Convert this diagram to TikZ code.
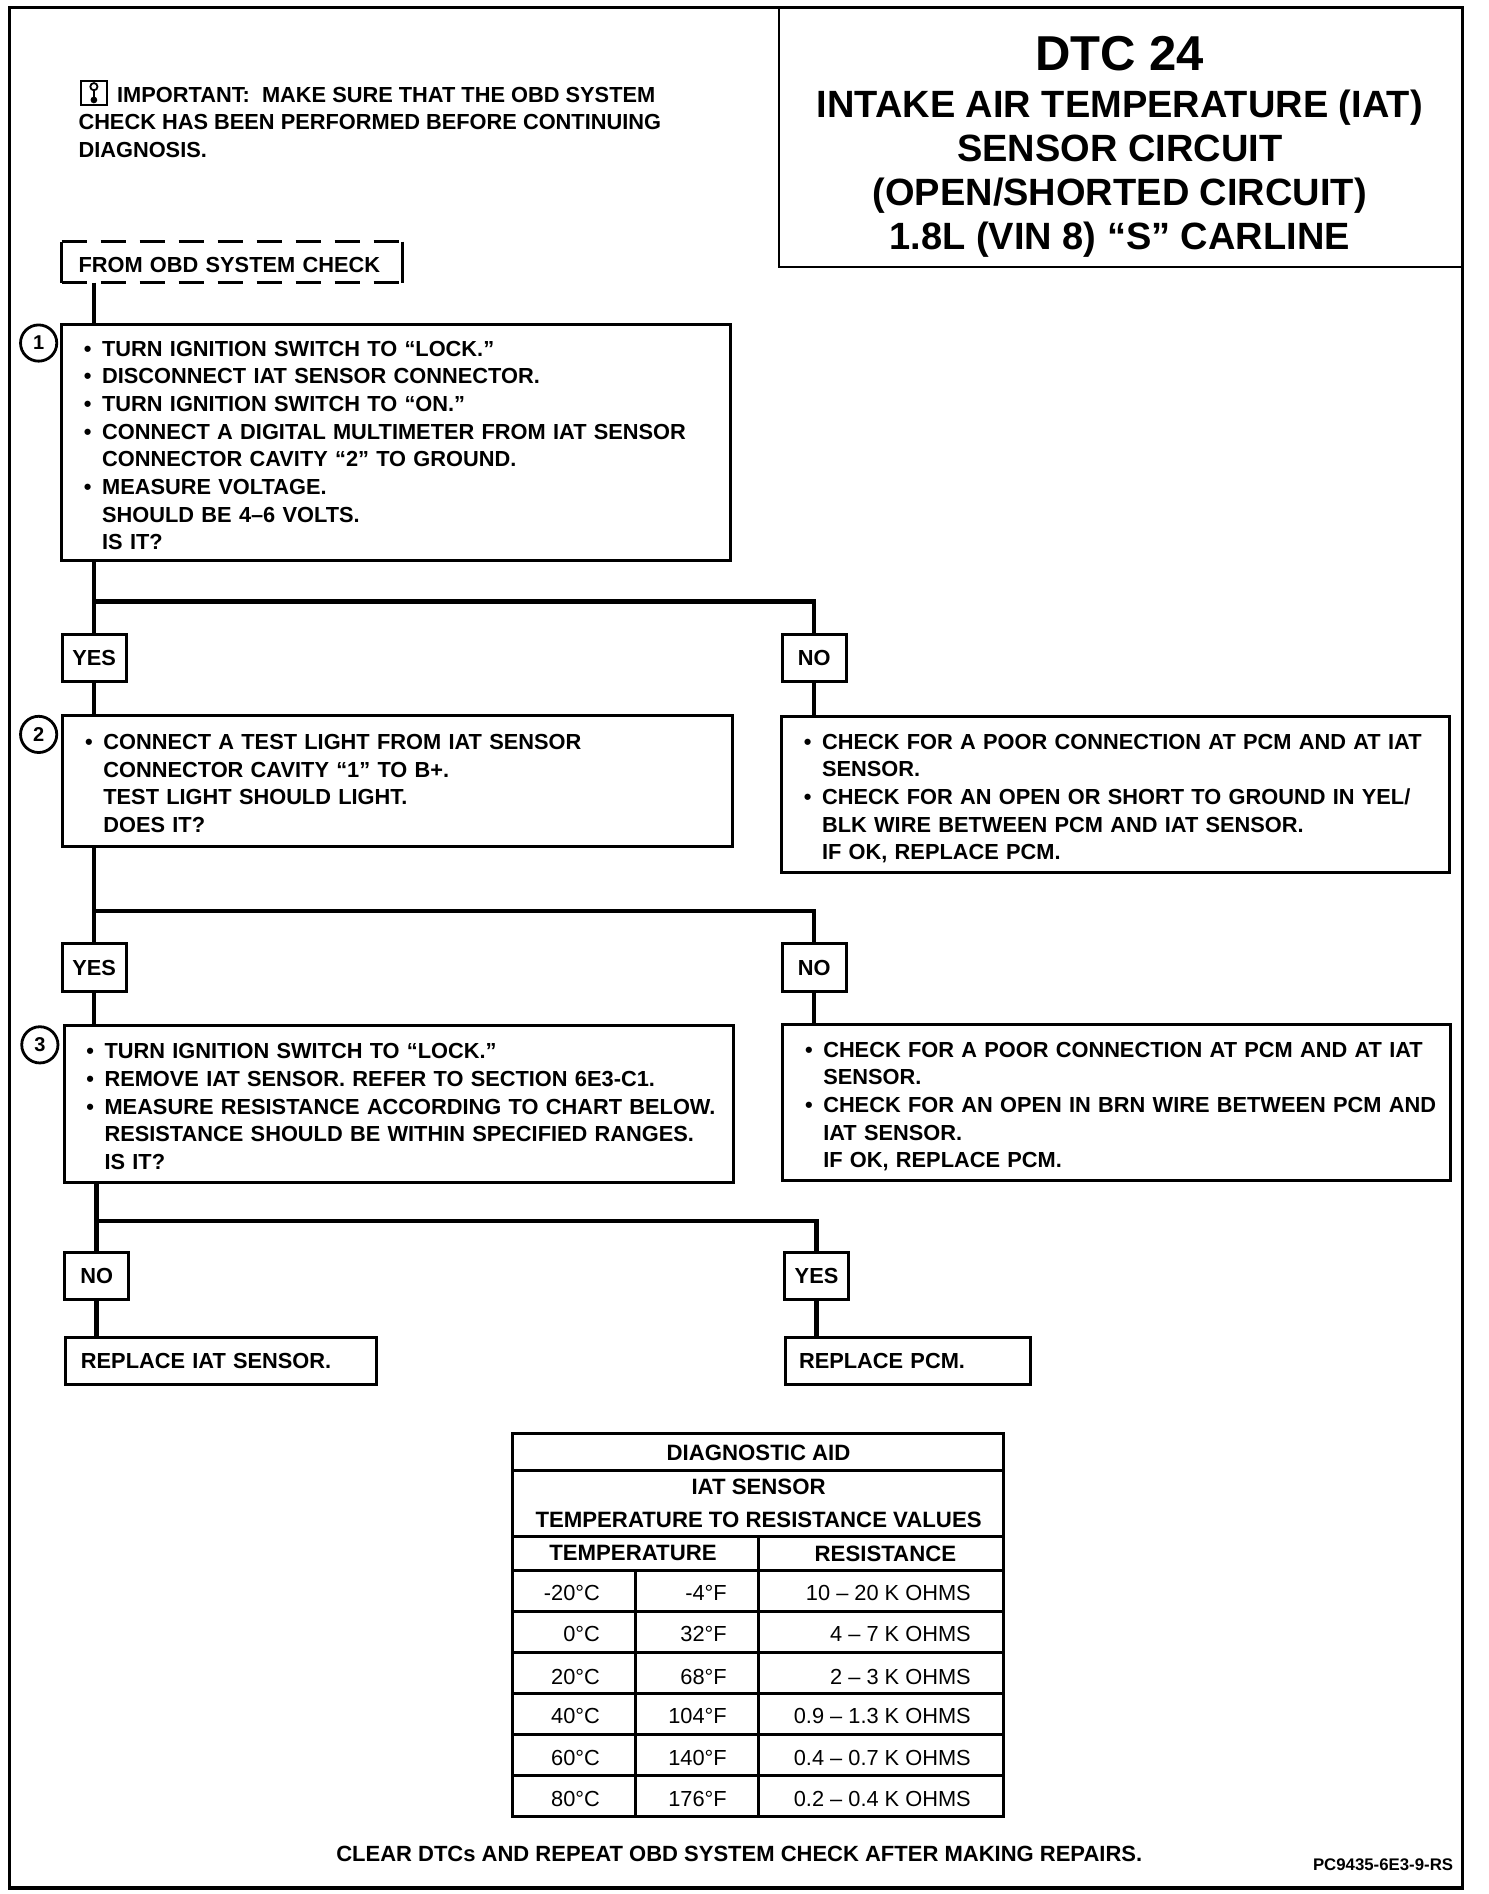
\documentclass[tikz,border=0pt]{standalone}
\usepackage{fontspec}
\setmainfont{Liberation Sans}
\usetikzlibrary{calc}
\newcommand{\bxnode}[7][]{\node[#6,anchor=north west,minimum width={(#4-#2)*0.6039pt},minimum height={(#5-#3)*0.6039pt},text width={(#4-#2-37)*0.6039pt},#1] (#7) at (#2,#3)}
\newcommand{\bl}[1]{\mbox{\makebox[9.1pt][l]{\textbullet}#1}}
\newcommand{\nb}[1]{\mbox{\hspace*{9.1pt}#1}}
\tikzset{
 x=0.6039pt,y=-0.6039pt,
 base/.style={font=\fontsize{10.9}{13.83}\selectfont\bfseries,align=left,inner sep=0pt,outer sep=0pt},
 procbox/.style={base,draw,line width=1.5pt},
 listbox/.style={procbox,execute at begin node={\rule{0pt}{10.3pt}}},
 lowlist/.style={procbox,execute at begin node={\rule{0pt}{12.1pt}}},
 plainbox/.style={base,line width=1.5pt,execute at begin node={\rule{0pt}{10.3pt}}},
 answer/.style={base,draw,line width=1.5pt,align=center,minimum width=53*0.6039pt,minimum height=39*0.6039pt,anchor=center},
 conn/.style={line width=2.2pt},
 marker/.style={circle,draw,line width=1.4pt,minimum size=30*0.6039pt,inner sep=0pt,font=\fontsize{10}{10}\selectfont\bfseries},
 rule/.style={line width=1.5pt},
 hcell/.style={font=\fontsize{11.1}{12}\selectfont\bfseries,inner sep=0pt},
 cell/.style={font=\fontsize{10.9}{12}\selectfont,inner sep=0pt,anchor=east},
 frame/.style={line width=1.6pt},
 iconline/.style={line width=0.9pt}
}
\begin{document}
\begin{tikzpicture}
\useasboundingbox (0,0) rectangle (1232,1568);
\draw[frame] (8,6) rectangle (1211,1563);
% title
\node[base,minimum width=565*0.6039pt,minimum height=215*0.6039pt,anchor=north west] (title) at (645,6) {};
\draw[line width=1.1pt] (title.north west) -- (title.south west) -- (title.south east);
\node[base,align=center,font=\fontsize{19}{22}\selectfont\bfseries] (titletext) at (927,121.5) {{\fontsize{24.5}{26}\selectfont DTC 24}\\[1.5pt]INTAKE AIR TEMPERATURE (IAT)\\SENSOR CIRCUIT\\(OPEN/SHORTED CIRCUIT)\\1.8L (VIN 8) “S” CARLINE};
% important note
\node[base,anchor=north west] (note) at (65,72) {\hspace*{19.3pt}IMPORTANT:\ \ MAKE SURE THAT THE OBD SYSTEM\\CHECK HAS BEEN PERFORMED BEFORE CONTINUING\\DIAGNOSIS.};
\node[draw,iconline,minimum width=22*0.6039pt,minimum height=20*0.6039pt,inner sep=0pt,anchor=north west] (icon) at (66,66) {};
\node[circle,draw,iconline,minimum size=3.6pt,inner sep=0pt] (iconA) at ($(icon.center)+(0,-5)$) {};
\node[circle,draw,fill,iconline,minimum size=2.4pt,inner sep=0pt] (iconB) at ($(icon.center)+(0,6)$) {};
\draw[iconline] (iconA) -- (iconB);
% boxes
\bxnode[text width=254*0.6039pt]{51}{200}{333}{234}{plainbox}{from}{FROM OBD SYSTEM CHECK};
\draw[line width=1.5pt,dash pattern=on 12.5pt off 7pt] (from.north west) -- (from.north east);
\draw[line width=1.5pt,dash pattern=on 12.5pt off 7pt] (from.south west) -- (from.south east);
\draw[line width=1.5pt] (from.north west) -- (from.south west);
\draw[line width=1.5pt] (from.north east) -- (from.south east);
\bxnode{51}{269}{605}{464}{listbox}{box1}{\bl{TURN IGNITION SWITCH TO “LOCK.”}\\\bl{DISCONNECT IAT SENSOR CONNECTOR.}\\\bl{TURN IGNITION SWITCH TO “ON.”}\\\bl{CONNECT A DIGITAL MULTIMETER FROM IAT SENSOR}\\\nb{CONNECTOR CAVITY “2” TO GROUND.}\\\bl{MEASURE VOLTAGE.}\\\nb{SHOULD BE 4–6 VOLTS.}\\\nb{IS IT?}};
\bxnode{52}{592}{606}{701}{listbox}{box2}{\bl{CONNECT A TEST LIGHT FROM IAT SENSOR}\\\nb{CONNECTOR CAVITY “1” TO B+.}\\\nb{TEST LIGHT SHOULD LIGHT.}\\\nb{DOES IT?}};
\bxnode{53}{849}{607}{979}{listbox}{box3}{\bl{TURN IGNITION SWITCH TO “LOCK.”}\\\bl{REMOVE IAT SENSOR. REFER TO SECTION 6E3-C1.}\\\bl{MEASURE RESISTANCE ACCORDING TO CHART BELOW.}\\\nb{RESISTANCE SHOULD BE WITHIN SPECIFIED RANGES.}\\\nb{IS IT?}};
\bxnode{647}{593}{1200}{722}{lowlist}{boxa}{\bl{CHECK FOR A POOR CONNECTION AT PCM AND AT IAT}\\\nb{SENSOR.}\\\bl{CHECK FOR AN OPEN OR SHORT TO GROUND IN YEL/}\\\nb{BLK WIRE BETWEEN PCM AND IAT SENSOR.}\\\nb{IF OK, REPLACE PCM.}};
\bxnode{648}{848}{1201}{977}{lowlist}{boxb}{\bl{CHECK FOR A POOR CONNECTION AT PCM AND AT IAT}\\\nb{SENSOR.}\\\bl{CHECK FOR AN OPEN IN BRN WIRE BETWEEN PCM AND}\\\nb{IAT SENSOR.}\\\nb{IF OK, REPLACE PCM.}};
\bxnode[text width=232*0.6039pt]{54}{1107}{312}{1146}{procbox}{rep1}{REPLACE IAT SENSOR.};
\bxnode[text width=180*0.6039pt]{650}{1107}{853}{1146}{procbox}{rep2}{REPLACE PCM.};
% yes/no
\node[answer] (yes1) at (78,545) {YES};
\node[answer] (no1) at (674,545) {NO};
\node[answer] (yes2) at (78,801) {YES};
\node[answer] (no2) at (674,801) {NO};
\node[answer] (no3) at (80,1056) {NO};
\node[answer] (yes3) at (676,1056) {YES};
% markers
\node[marker] (m1) at (32,284) {1};
\node[marker] (m2) at (32,608) {2};
\node[marker] (m3) at (33,865) {3};
% connectors
\coordinate (j1) at (78,498);
\coordinate (j2) at (78,754);
\coordinate (j3) at (80,1011);
\draw[conn] (yes1 |- from.south) -- (yes1 |- box1.north);
\draw[conn] (yes1 |- box1.south) -- (yes1.north);
\draw[conn] (j1) -| (no1.north);
\draw[conn] (yes1.south) -- (yes1 |- box2.north);
\draw[conn] (no1.south) -- (no1 |- boxa.north);
\draw[conn] (yes2 |- box2.south) -- (yes2.north);
\draw[conn] (j2) -| (no2.north);
\draw[conn] (yes2.south) -- (yes2 |- box3.north);
\draw[conn] (no2.south) -- (no2 |- boxb.north);
\draw[conn] (no3 |- box3.south) -- (no3.north);
\draw[conn] (j3) -| (yes3.north);
\draw[conn] (no3.south) -- (no3 |- rep1.north);
\draw[conn] (yes3.south) -- (yes3 |- rep2.north);
% table
\draw[rule] (424,1187) rectangle (831,1504);
\foreach \yy in {1217,1272,1300,1334,1368,1402,1436,1470} \draw[rule] (424,\yy) -- (831,\yy);
\draw[rule] (628,1272) -- (628,1504);
\draw[rule] (526,1300) -- (526,1504);
\node[hcell] (t1) at (628,1203) {DIAGNOSTIC AID};
\node[hcell] (t2) at (628,1231) {IAT SENSOR};
\node[hcell] (t3) at (628,1258) {TEMPERATURE TO RESISTANCE VALUES};
\node[hcell] (t4) at (524,1286) {TEMPERATURE};
\node[hcell] (t5) at (733,1286) {RESISTANCE};
\node[cell] (c1a) at (497,1319) {-20°C}; \node[cell] (c1b) at (602,1319) {-4°F}; \node[cell] (c1c) at (804,1319) {10 – 20 K OHMS};
\node[cell] (c2a) at (497,1353) {0°C}; \node[cell] (c2b) at (602,1353) {32°F}; \node[cell] (c2c) at (804,1353) {4 – 7 K OHMS};
\node[cell] (c3a) at (497,1388) {20°C}; \node[cell] (c3b) at (602,1388) {68°F}; \node[cell] (c3c) at (804,1388) {2 – 3 K OHMS};
\node[cell] (c4a) at (497,1421) {40°C}; \node[cell] (c4b) at (602,1421) {104°F}; \node[cell] (c4c) at (804,1421) {0.9 – 1.3 K OHMS};
\node[cell] (c5a) at (497,1455) {60°C}; \node[cell] (c5b) at (602,1455) {140°F}; \node[cell] (c5c) at (804,1455) {0.4 – 0.7 K OHMS};
\node[cell] (c6a) at (497,1489) {80°C}; \node[cell] (c6b) at (602,1489) {176°F}; \node[cell] (c6c) at (804,1489) {0.2 – 0.4 K OHMS};
% footer
\node[hcell,font=\fontsize{11}{12}\selectfont\bfseries] (foot) at (612,1535) {CLEAR DTCs AND REPEAT OBD SYSTEM CHECK AFTER MAKING REPAIRS.};
\node[hcell,font=\fontsize{8.4}{9}\selectfont\bfseries] (code) at (1145,1544) {PC9435-6E3-9-RS};
\end{tikzpicture}
\end{document}
